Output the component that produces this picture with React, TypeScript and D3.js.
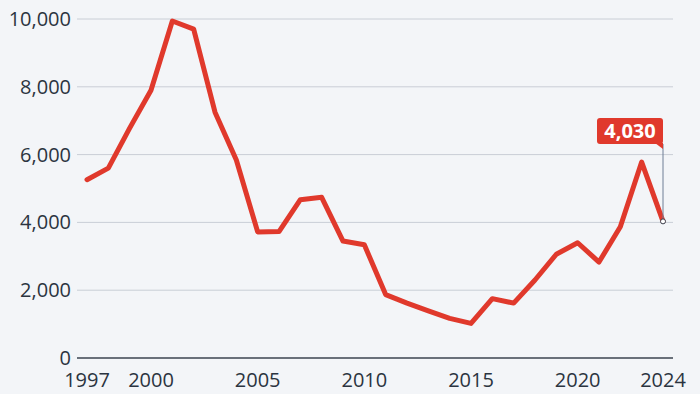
import * as d3 from 'd3';

const years = [
  1997, 1998, 1999, 2000, 2001, 2002, 2003, 2004, 2005, 2006, 2007, 2008, 2009, 2010,
  2011, 2012, 2013, 2014, 2015, 2016, 2017, 2018, 2019, 2020, 2021, 2022, 2023, 2024,
];
const values = [
  5260, 5600, 6780, 7900, 9940, 9700, 7250, 5840, 3720, 3730, 4670, 4740, 3450, 3340,
  1870, 1620, 1390, 1170, 1020, 1750, 1620, 2300, 3060, 3400, 2830, 3870, 5780, 4030,
];
const yTicks = [0, 2000, 4000, 6000, 8000, 10000];
const xTicks = [1997, 2000, 2005, 2010, 2015, 2020, 2024];

const width = 700;
const height = 394;
const margin = { left: 87, right: 37, top: 19, bottom: 36 };
const font = '"Open Sans", "Noto Sans", sans-serif';

const App = () => {
  const x = d3
    .scaleLinear()
    .domain([1997, 2024])
    .range([margin.left, width - margin.right]);
  const y = d3
    .scaleLinear()
    .domain([0, 10000])
    .range([height - margin.bottom, margin.top]);

  const data = years.map((yr, i) => ({ yr, v: values[i] }));
  const line = d3
    .line<{ yr: number; v: number }>()
    .x((d) => x(d.yr))
    .y((d) => y(d.v));

  const fmt = d3.format(',');
  const last = data[data.length - 1];
  const lx = x(last.yr);
  const ly = y(last.v);

  // label box above the last point
  const boxW = 66;
  const boxH = 26;
  const boxBottom = 144;

  return (
    <div style={{ position: 'fixed', left: 0, top: 0, width, height, background: '#f3f5f8' }}>
      <svg width={width} height={height} style={{ display: 'block' }}>
        <rect width={width} height={height} fill="#f3f5f8" />
        {yTicks.map((t) => (
          <g key={t}>
            {t > 0 && (
              <line
                x1={margin.left - 10}
                x2={width - margin.right + 10}
                y1={y(t)}
                y2={y(t)}
                stroke="#c9ced6"
                strokeWidth={1}
              />
            )}
            <text
              x={71}
              y={y(t)}
              dy="0.35em"
              textAnchor="end"
              fontFamily={font}
              fontSize={20}
              fill="#2b3440"
            >
              {fmt(t)}
            </text>
          </g>
        ))}
        <line
          x1={margin.left - 10}
          x2={width - margin.right + 10}
          y1={y(0)}
          y2={y(0)}
          stroke="#3b4350"
          strokeWidth={1.5}
        />
        {xTicks.map((t) => (
          <text
            key={t}
            x={x(t)}
            y={387}
            textAnchor="middle"
            fontFamily={font}
            fontSize={20}
            fill="#2b3440"
          >
            {t}
          </text>
        ))}
        <path
          d={line(data) ?? ''}
          fill="none"
          stroke="#e0392c"
          strokeWidth={5}
          strokeLinejoin="round"
          strokeLinecap="round"
        />
        <line x1={lx} x2={lx} y1={boxBottom} y2={ly} stroke="#6f7f96" strokeWidth={1} />
        <rect
          x={lx - boxW}
          y={boxBottom - boxH}
          width={boxW}
          height={boxH}
          rx={3}
          fill="#e0392c"
        />
        <path
          d={`M${lx - 8},${boxBottom - 1} L${lx},${boxBottom - 1} L${lx},${boxBottom + 5} Z`}
          fill="#e0392c"
        />
        <text
          x={lx - boxW / 2}
          y={boxBottom - boxH / 2}
          dy="0.36em"
          textAnchor="middle"
          fontFamily={font}
          fontWeight={700}
          fontSize={20}
          fill="#ffffff"
        >
          {fmt(last.v)}
        </text>
        <circle cx={lx} cy={ly} r={2.5} fill="#ffffff" stroke="#3b4350" strokeWidth={1} />
      </svg>
    </div>
  );
};

export default App;
